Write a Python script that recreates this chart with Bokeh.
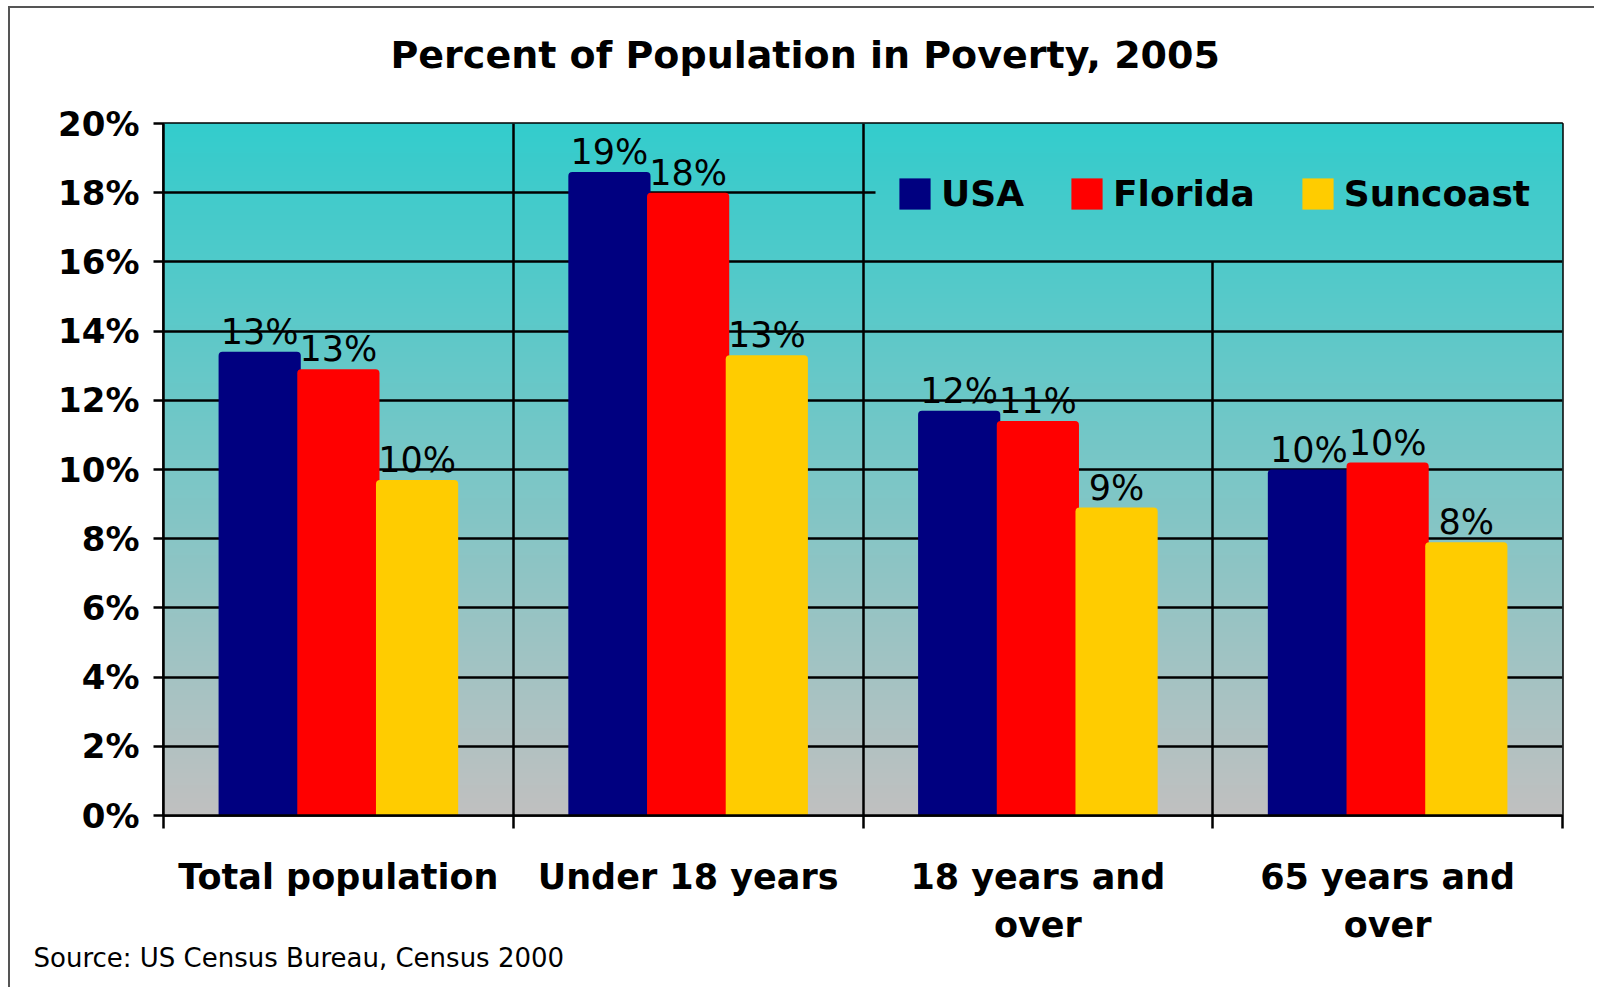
import numpy as np
from bokeh.plotting import figure
from bokeh.models import (ColumnDataSource, FixedTicker, Grid, Legend, LegendItem,
                          Title, PrintfTickFormatter, Range1d)
from bokeh.transform import dodge
from bokeh.core.properties import value
from bokeh.embed import file_html
from bokeh.resources import INLINE

# ---------------- data ----------------
categories = ["Total population", "Under 18 years", "18 years and\nover", "65 years and\nover"]
series = ["USA", "Florida", "Suncoast"]
usa = [13.4, 18.6, 11.7, 10.0]
florida = [12.9, 18.0, 11.4, 10.2]
suncoast = [9.7, 13.3, 8.9, 7.9]
y_ticks = [0, 2, 4, 6, 8, 10, 12, 14, 16, 18, 20]

colors = ["#000080", "#FF0000", "#FFCC00"]
FONT = "DejaVu Sans"

xpos = list(range(len(categories)))
src = ColumnDataSource(dict(
    x=xpos, usa=usa, florida=florida, suncoast=suncoast,
    usa_l=[f"{round(v)}%" for v in usa],
    florida_l=[f"{round(v)}%" for v in florida],
    suncoast_l=[f"{round(v)}%" for v in suncoast],
))

p = figure(width=1586, height=981, output_backend="svg", toolbar_location=None,
           x_range=Range1d(-0.5, len(categories) - 0.5), y_range=Range1d(0, 20),
           min_border_left=153, min_border_right=34, min_border_top=115, min_border_bottom=174)
p.title = None
p.styles = {"position": "relative", "left": "8px", "top": "6px",
            "border-left": "2px solid #555555", "border-top": "2px solid #555555"}

# gradient background (teal at top to silver at bottom)
n = 700
t = np.linspace(0, 1, n)[:, None]
top = np.array([0x33, 0xCC, 0xCC]); bot = np.array([0xC0, 0xC0, 0xC0])
rgb = (bot * (1 - t) + top * t).round().astype(np.uint32)
img = np.zeros((n, 1), dtype=np.uint32)
view = img.view(dtype=np.uint8).reshape((n, 1, 4))
view[:, :, 0] = rgb[:, 0:1]
view[:, :, 1] = rgb[:, 1:2]
view[:, :, 2] = rgb[:, 2:3]
view[:, :, 3] = 255
x0, x1 = p.x_range.start, p.x_range.end
y0, y1 = p.y_range.start, p.y_range.end
p.image_rgba(image=[img], x=x0, y=y0, dw=x1 - x0, dh=y1 - y0, level="image")

# grids
p.xgrid.visible = False
p.ygrid.visible = False
b = [i + 0.5 for i in xpos[:-1]]
GW = 2.5
g1 = Grid(dimension=0, ticker=FixedTicker(ticks=b[:2]), grid_line_color="black", grid_line_width=GW)
g2 = Grid(dimension=0, ticker=FixedTicker(ticks=b[2:]), grid_line_color="black", grid_line_width=GW,
          cross_bounds=(0, 16))
g3 = Grid(dimension=1, ticker=FixedTicker(ticks=y_ticks[1:9]), grid_line_color="black", grid_line_width=GW)
g4 = Grid(dimension=1, ticker=FixedTicker(ticks=[y_ticks[9]]), grid_line_color="black", grid_line_width=GW,
          cross_bounds=(x0, 1.535))
for g in (g1, g2, g3, g4):
    p.add_layout(g)

p.outline_line_color = "black"
p.outline_line_width = 2.5

# bars
offs = [-0.225, 0.0, 0.225]
fields = ["usa", "florida", "suncoast"]
renderers = []
for f, o, c in zip(fields, offs, colors):
    r = p.vbar(x=dodge("x", o), top=f, width=0.235, bottom=0, source=src,
               fill_color=c, line_color=None, border_radius=(4, 4, 0, 0))
    renderers.append(r)
for f, o in zip(fields, offs):
    p.text(x=dodge("x", o), y=f, text=f + "_l", source=src, text_align="center",
           text_baseline="bottom", y_offset=0, text_font=value(FONT),
           text_font_size="35px", text_color="black")

# legend
legend = Legend(items=[LegendItem(label=s, renderers=[r]) for s, r in zip(series, renderers)],
                orientation="horizontal", location=(732, 601), padding=0, margin=0,
                spacing=43, label_standoff=7, glyph_width=39, glyph_height=39,
                background_fill_alpha=0, border_line_color=None,
                label_text_font=FONT, label_text_font_size="36px", label_text_font_style="bold",
                label_text_color="black")
p.add_layout(legend)

# axes
p.yaxis.ticker = FixedTicker(ticks=y_ticks)
p.yaxis.formatter = PrintfTickFormatter(format="%d%%")
p.yaxis.major_tick_out = 10
p.yaxis.major_tick_in = 0
p.yaxis.minor_tick_line_color = None
p.yaxis.axis_line_width = 2.5
p.yaxis.major_tick_line_width = 2.5
p.yaxis.major_label_standoff = 14
p.yaxis.major_label_text_font = FONT
p.yaxis.major_label_text_font_size = "34px"
p.yaxis.major_label_text_font_style = "bold"
p.yaxis.major_label_text_color = "black"

p.xaxis.ticker = FixedTicker(ticks=xpos, minor_ticks=[-0.5] + b + [len(categories) - 0.5])
p.xaxis.major_label_overrides = {i: c for i, c in zip(xpos, categories)}
p.xaxis.major_tick_line_color = None
p.xaxis.major_tick_out = 0
p.xaxis.major_tick_in = 0
p.xaxis.minor_tick_out = 13
p.xaxis.minor_tick_in = 0
p.xaxis.minor_tick_line_color = "black"
p.xaxis.minor_tick_line_width = 2.5
p.xaxis.axis_line_width = 2.5
p.xaxis.major_label_standoff = 28
p.xaxis.major_label_text_font = FONT
p.xaxis.major_label_text_font_size = "35px"
p.xaxis.major_label_text_font_style = "bold"
p.xaxis.major_label_text_color = "black"
p.xaxis.major_label_text_line_height = 1.22

# titles (spacer first: closest to the frame; main title above it)
spacer = Title(text=" ", text_font_size="1px", standoff=44)
p.add_layout(spacer, "above")
main_title = Title(text="Percent of Population in Poverty, 2005", align="left", offset=227,
                   standoff=0, text_font=FONT, text_font_size="38px", text_font_style="bold",
                   text_color="black")
p.add_layout(main_title, "above")

src_title = Title(text="Source: US Census Bureau, Census 2000", align="left", offset=-130,
                  text_font=FONT, text_font_size="26px", text_font_style="normal",
                  text_color="black", standoff=-16)
p.add_layout(src_title, "below")

open("out.html", "w").write(file_html(p, INLINE))
